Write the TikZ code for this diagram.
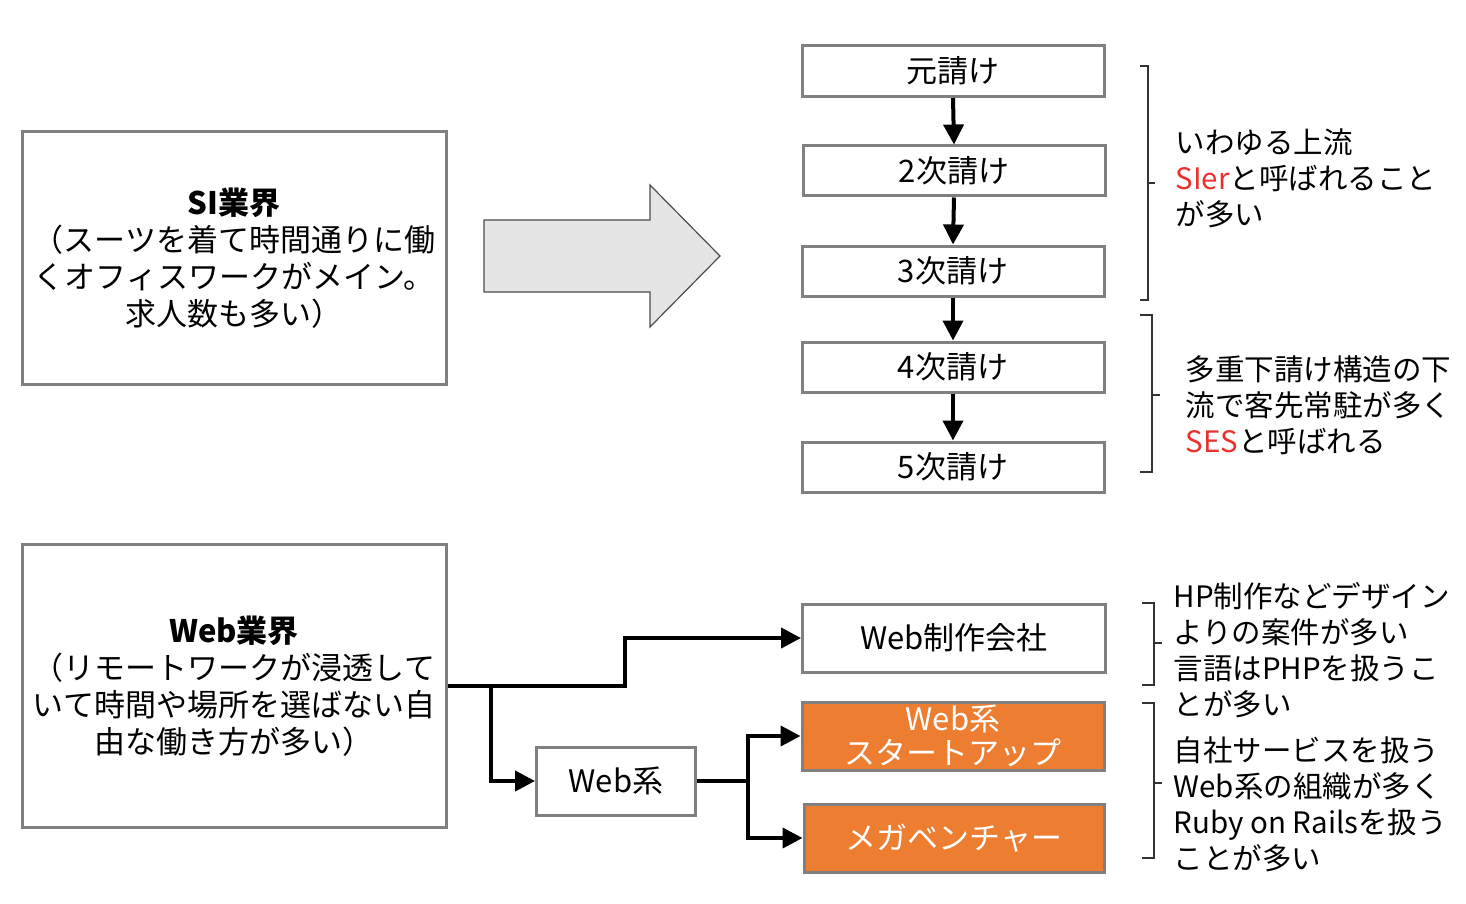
\documentclass[tikz,border=0pt]{standalone}
\usepackage{fontspec}
\setmainfont{Noto Sans CJK JP}
\usetikzlibrary{arrows.meta}
\definecolor{org}{HTML}{ED7D31}
\definecolor{bgr}{HTML}{808080}
\definecolor{rd}{HTML}{E8322B}
\begin{document}
\begin{tikzpicture}[x=1pt,y=-1pt,
  box/.style={draw=bgr,line width=3pt,inner sep=0pt,font=\fontsize{31}{37}\selectfont,align=center},
  obox/.style={box,fill=org,text=white},
  arr/.style={line width=4pt,-{Triangle[length=20pt,width=20pt]}},
  ln/.style={line width=4pt},
  br/.style={draw=black!80,line width=1.2pt},
  txt/.style={font=\fontsize{29.5}{36}\selectfont,align=left,anchor=west}]
\useasboundingbox (0,0) rectangle (1466,904);
\node[box,minimum width=424pt,minimum height=253pt] (si) at (234,258) {\textbf{SI業界}\\（スーツを着て時間通りに働\\くオフィスワークがメイン。\\求人数も多い）};
\draw[fill=black!10,draw=black!70,line width=1.2pt] (484,220)--(650,220)--(650,185)--(720,256)--(650,327)--(650,292)--(484,292)--cycle;
\node[box,minimum width=302pt,minimum height=51pt] (c1) at (953,71) {元請け};
\node[box,minimum width=302pt,minimum height=50pt] (c2) at (954,171) {2次請け};
\node[box,minimum width=302pt,minimum height=50pt] (c3) at (953,271) {3次請け};
\node[box,minimum width=302pt,minimum height=50pt] (c4) at (953,367) {4次請け};
\node[box,minimum width=302pt,minimum height=50pt] (c5) at (953,467) {5次請け};
\foreach \a/\b in {c1/c2,c2/c3,c3/c4,c4/c5} \draw[arr] (\a.south) -- (\b.north);
\draw[br] (1140,66) -- (1148,66) -- (1148,300) -- (1140,300) (1148,183) -- (1155,183);
\node[txt] at (1172,178) {いわゆる上流\\\textcolor{rd}{SIer}と呼ばれること\\が多い};
\draw[br] (1140,315) -- (1152,315) -- (1152,472) -- (1140,472) (1152,395) -- (1160,395);
\node[txt] at (1182,405) {多重下請け構造の下\\流で客先常駐が多く\\\textcolor{rd}{SES}と呼ばれる};
\node[box,minimum width=424pt,minimum height=283pt] (web) at (234,686) {\textbf{Web業界}\\（リモートワークが浸透して\\いて時間や場所を選ばない自\\由な働き方が多い）};
\node[box,minimum width=303pt,minimum height=68pt] (wc) at (954,638) {Web制作会社};
\node[box,minimum width=159pt,minimum height=68pt] (wk) at (616,781) {Web系};
\node[obox,minimum width=302pt,minimum height=68pt,font=\fontsize{31}{34}\selectfont] (st) at (953,736) {Web系\\スタートアップ};
\node[obox,minimum width=300pt,minimum height=68pt] (mv) at (954,838) {メガベンチャー};
\coordinate (j1) at (491,686);
\draw[arr] (web.east) -- (625,686) -- (625,638) -- (wc.west);
\draw[arr] (j1) -- (491,781) -- (wk.west);
\draw[ln] (wk.east) -- (748,781);
\draw[arr] (748,783) -- (748,736) -- (st.west);
\draw[arr] (748,779) -- (748,838) -- (mv.west);
\draw[br] (1142,603) -- (1154,603) -- (1154,685) -- (1142,685) (1154,643) -- (1162,643);
\node[txt] at (1170,650) {HP制作などデザイン\\よりの案件が多い\\言語はPHPを扱うこ\\とが多い};
\draw[br] (1142,703) -- (1154,703) -- (1154,858) -- (1142,858) (1154,783) -- (1162,783);
\node[txt] at (1170,804) {自社サービスを扱う\\Web系の組織が多く\\Ruby on Railsを扱う\\ことが多い};
\end{tikzpicture}
\end{document}
